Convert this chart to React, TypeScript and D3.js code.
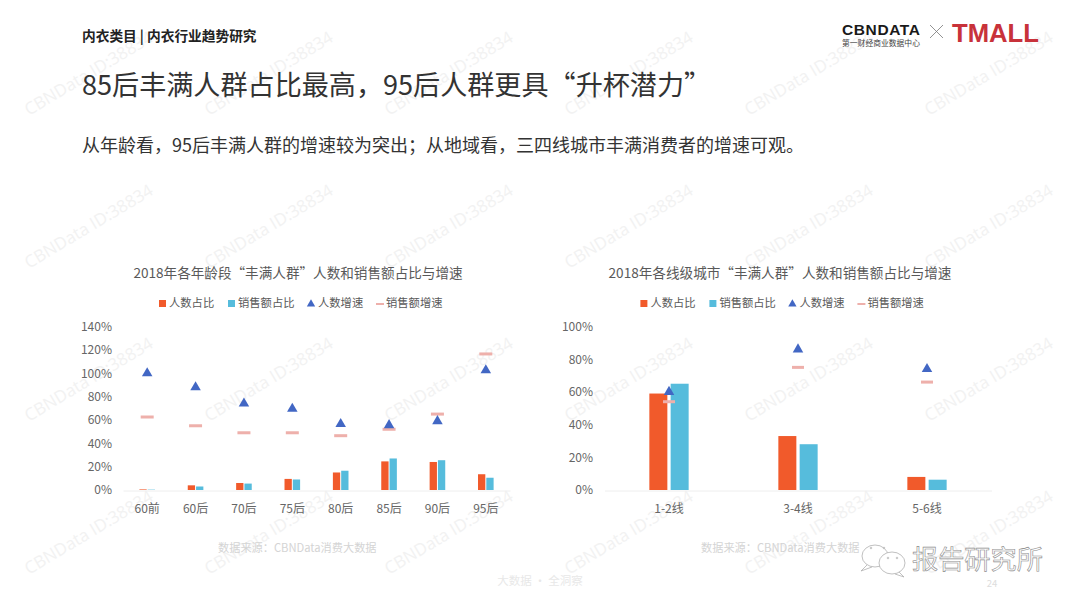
import { useEffect, useRef } from 'react';
import * as d3 from 'd3';

const FONT = '"Noto Sans CJK SC", "Noto Sans", sans-serif';

const ageCategories = ['60前', '60后', '70后', '75后', '80后', '85后', '90后', '95后'];
const agePeopleShare = [0.5, 4, 6, 9.5, 15, 24.5, 24, 13.5];
const ageSalesShare = [0.3, 3, 5.5, 9, 16.5, 27, 25.5, 10.5];
const agePeopleGrowth = [100, 88, 74, 69.5, 56.5, 55.5, 59, 102.5];
const ageSalesGrowth = [62.5, 55, 49, 49, 46.5, 52, 65, 116.5];
const ageTicks = [0, 20, 40, 60, 80, 100, 120, 140];

const cityCategories = ['1-2线', '3-4线', '5-6线'];
const cityPeopleShare = [59, 33, 8];
const citySalesShare = [65, 28, 6.3];
const cityPeopleGrowth = [60, 86, 74];
const citySalesGrowth = [54, 75, 66];
const cityTicks = [0, 20, 40, 60, 80, 100];

const legendLabels = ['人数占比', '销售额占比', '人数增速', '销售额增速'];
const COLORS = ['#f15a2b', '#56bcdc', '#4267c4', '#eeb0ab'];

type ChartConfig = {
  title: string;
  titleX: number;
  legendDx: number;
  left: number;
  right: number;
  labelX: number;
  categories: string[];
  people: number[];
  sales: number[];
  peopleGrowth: number[];
  salesGrowth: number[];
  ticks: number[];
  barWidth: number;
  barGap: number;
  dashWidth: number;
  source: string;
  sourceX: number;
};

function drawChart(svg: any, c: ChartConfig) {
  const g = svg.append('g');
  const x = d3.scaleBand().domain(c.categories).range([c.left, c.right]);
  const y = d3
    .scaleLinear()
    .domain([0, d3.max(c.ticks) as number])
    .range([490, 326.5]);

  g.append('text')
    .attr('x', c.titleX)
    .attr('y', 278)
    .attr('text-anchor', 'middle')
    .attr('font-size', 13.6)
    .attr('fill', '#595959')
    .text(c.title);

  // legend
  const lg = g.append('g').attr('transform', `translate(${c.legendDx},0)`);
  lg.append('rect').attr('x', 159).attr('y', 300).attr('width', 7).attr('height', 7).attr('fill', COLORS[0]);
  lg.append('rect').attr('x', 228).attr('y', 300).attr('width', 7).attr('height', 7).attr('fill', COLORS[1]);
  lg.append('path')
    .attr('d', d3.symbol(d3.symbolTriangle, 30)())
    .attr('transform', 'translate(311,304)')
    .attr('fill', COLORS[2]);
  lg.append('rect').attr('x', 376).attr('y', 303).attr('width', 8).attr('height', 2).attr('fill', COLORS[3]);
  [169, 238, 318, 386].forEach((tx, i) => {
    lg.append('text')
      .attr('x', tx)
      .attr('y', 307)
      .attr('font-size', 11.3)
      .attr('fill', '#595959')
      .text(legendLabels[i]);
  });

  // y axis
  const yAxis = g
    .append('g')
    .attr('transform', `translate(${c.labelX + 6},0)`)
    .call(
      d3
        .axisLeft(y)
        .tickValues(c.ticks)
        .tickSize(0)
        .tickPadding(6)
        .tickFormat((d: any) => `${d}%`)
    );
  yAxis.select('.domain').remove();
  yAxis
    .selectAll('text')
    .attr('font-family', FONT)
    .attr('font-size', 12)
    .attr('fill', '#666');

  // x axis
  const xAxis = g
    .append('g')
    .attr('transform', 'translate(0,490.5)')
    .call(d3.axisBottom(x).tickSize(0).tickPadding(14));
  xAxis.select('.domain').attr('stroke', '#eeeeee').attr('stroke-width', 1);
  xAxis
    .selectAll('text')
    .attr('font-family', FONT)
    .attr('font-size', 12)
    .attr('fill', '#666');

  const mid = (d: string) => (x(d) as number) + x.bandwidth() / 2;

  g.selectAll('.people')
    .data(c.categories)
    .join('rect')
    .attr('x', (d: string) => mid(d) - c.barGap / 2 - c.barWidth)
    .attr('y', (_: string, i: number) => y(c.people[i]))
    .attr('width', c.barWidth)
    .attr('height', (_: string, i: number) => 490 - y(c.people[i]))
    .attr('fill', COLORS[0]);

  g.selectAll('.sales')
    .data(c.categories)
    .join('rect')
    .attr('x', (d: string) => mid(d) + c.barGap / 2)
    .attr('y', (_: string, i: number) => y(c.sales[i]))
    .attr('width', c.barWidth)
    .attr('height', (_: string, i: number) => 490 - y(c.sales[i]))
    .attr('fill', COLORS[1]);

  g.selectAll('.sales-growth')
    .data(c.categories)
    .join('rect')
    .attr('x', (d: string) => mid(d) - c.dashWidth / 2)
    .attr('y', (_: string, i: number) => y(c.salesGrowth[i]) - 1.5)
    .attr('width', c.dashWidth)
    .attr('height', 3)
    .attr('fill', COLORS[3]);

  g.selectAll('.people-growth')
    .data(c.categories)
    .join('path')
    .attr('d', d3.symbol(d3.symbolTriangle, 48)())
    .attr(
      'transform',
      (d: string, i: number) => `translate(${mid(d)},${y(c.peopleGrowth[i])})`
    )
    .attr('fill', COLORS[2]);

  g.append('text')
    .attr('x', c.sourceX)
    .attr('y', 552)
    .attr('font-size', 11.2)
    .attr('fill', '#d4d4d4')
    .text(c.source);
}

function drawWatermarks(svg: any) {
  const g = svg.append('g');
  d3.range(6).forEach((col) => {
    d3.range(4).forEach((row) => {
      g.append('text')
        .attr(
          'transform',
          `translate(${29 + col * 180},${116 + row * 153}) rotate(-31)`
        )
        .attr('font-family', '"Open Sans", sans-serif')
        .attr('font-size', 17)
        .attr('fill', '#f2f2f2')
        .text('CBNData ID:38834');
    });
  });
}

function drawHeader(svg: any) {
  svg.append('text').attr('x', 82).attr('y', 41).attr('font-size', 13.7).attr('font-weight', 700).attr('fill', '#222').text('内衣类目 | 内衣行业趋势研究');
  svg.append('text').attr('x', 82).attr('y', 95).attr('font-size', 27.1).attr('fill', '#333').text('85后丰满人群占比最高，95后人群更具“升杯潜力”');
  svg.append('text').attr('x', 82).attr('y', 152).attr('font-size', 18).attr('fill', '#333').text('从年龄看，95后丰满人群的增速较为突出；从地域看，三四线城市丰满消费者的增速可观。');

  // logos
  svg.append('text').attr('x', 842).attr('y', 35).attr('font-size', 15.5).attr('font-weight', 700).attr('font-family', '"Liberation Sans", sans-serif').attr('textLength', 78).attr('fill', '#1a1a1a').text('CBNDATA');
  svg.append('text').attr('x', 842).attr('y', 46).attr('font-size', 7.8).attr('fill', '#444').text('第一财经商业数据中心');
  svg.append('path').attr('d', 'M930,25L943,38M943,25L930,38').attr('stroke', '#777').attr('stroke-width', 0.8).attr('fill', 'none');
  svg.append('text').attr('x', 952).attr('y', 42).attr('font-size', 25).attr('font-weight', 700).attr('font-family', '"Liberation Sans", sans-serif').attr('textLength', 87).attr('lengthAdjust', 'spacingAndGlyphs').attr('fill', '#c8323a').text('TMALL');

  // footer
  svg.append('text').attr('x', 540).attr('y', 585).attr('text-anchor', 'middle').attr('font-size', 11.5).attr('fill', '#e8e8e8').text('大数据 · 全洞察');
  svg.append('text').attr('x', 992).attr('y', 587).attr('text-anchor', 'middle').attr('font-size', 9.5).attr('fill', '#dddddd').text('24');
}

function drawWechatMark(svg: any) {
  const g = svg.append('g').attr('fill', '#fff').attr('stroke', '#b0b0b0').attr('stroke-width', 0.8);
  g.append('path').attr('d', 'M867,565L861,571L872,567').attr('stroke-linejoin', 'round');
  g.append('ellipse').attr('cx', 875).attr('cy', 556).attr('rx', 13).attr('ry', 11);
  g.append('path').attr('d', 'M899,572L904,577L895,574').attr('stroke-linejoin', 'round');
  g.append('ellipse').attr('cx', 892).attr('cy', 563).attr('rx', 13).attr('ry', 11);
  [
    [871, 548],
    [884, 548],
    [888, 558],
    [897, 558],
  ].forEach(([cx, cy]) => {
    g.append('circle').attr('cx', cx).attr('cy', cy).attr('r', 0.8);
  });
  svg.append('text')
    .attr('x', 912)
    .attr('y', 569)
    .attr('font-size', 26.2)
    .attr('fill', '#fff')
    .attr('stroke', '#8c8c8c')
    .attr('stroke-width', 0.6)
    .text('报告研究所');
}

export default function App() {
  const ref = useRef<SVGSVGElement>(null);

  useEffect(() => {
    const svg = d3.select(ref.current);
    svg.selectAll('*').remove();
    drawWatermarks(svg);
    drawHeader(svg);
    drawChart(svg, {
      title: '2018年各年龄段“丰满人群”人数和销售额占比与增速',
      titleX: 298,
      legendDx: 0,
      left: 123,
      right: 510,
      labelX: 112,
      categories: ageCategories,
      people: agePeopleShare,
      sales: ageSalesShare,
      peopleGrowth: agePeopleGrowth,
      salesGrowth: ageSalesGrowth,
      ticks: ageTicks,
      barWidth: 7.3,
      barGap: 1,
      dashWidth: 13,
      source: '数据来源：CBNData消费大数据',
      sourceX: 218,
    });
    drawChart(svg, {
      title: '2018年各线级城市“丰满人群”人数和销售额占比与增速',
      titleX: 780,
      legendDx: 481.4,
      left: 604.5,
      right: 991.5,
      labelX: 593,
      categories: cityCategories,
      people: cityPeopleShare,
      sales: citySalesShare,
      peopleGrowth: cityPeopleGrowth,
      salesGrowth: citySalesGrowth,
      ticks: cityTicks,
      barWidth: 18,
      barGap: 3.3,
      dashWidth: 12,
      source: '数据来源：CBNData消费大数据',
      sourceX: 701,
    });
    drawWechatMark(svg);
  }, []);

  return (
    <svg
      ref={ref}
      width={1080}
      height={608}
      style={{ position: 'absolute', left: 0, top: 0, background: '#fff', fontFamily: FONT }}
    />
  );
}
